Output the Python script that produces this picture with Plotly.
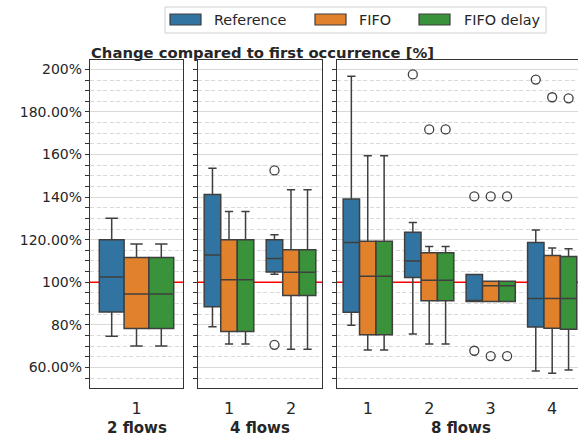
import plotly.graph_objects as go

# ---------------- data ----------------
panel_names = ["2 flows", "4 flows", "8 flows"]
panel_of_box = [0, 1, 1, 2, 2, 2, 2]
flow_labels = ["1", "1", "2", "1", "2", "3", "4"]
series_names = ["Reference", "FIFO", "FIFO delay"]

ref_low = [74.6, 79.1, 103.8, 79.8, 75.7, 90.9, 58.3]
ref_q1 = [86.0, 88.5, 104.8, 85.9, 102.2, 90.9, 79.0]
ref_med = [102.4, 112.8, 111.1, 118.6, 110.0, 90.9, 92.3]
ref_q3 = [119.9, 141.2, 120.0, 139.1, 123.5, 103.6, 118.6]
ref_high = [130.1, 153.6, 122.3, 196.8, 128.0, 103.6, 124.5]
ref_out_box = [2, 2, 4, 5, 5, 6]
ref_out_val = [152.5, 70.6, 197.6, 140.3, 67.8, 195.2]

fifo_low = [70.0, 71.0, 68.5, 68.1, 71.0, 90.9, 57.2]
fifo_q1 = [78.2, 76.8, 93.7, 75.3, 91.3, 90.9, 78.4]
fifo_med = [94.5, 101.1, 104.7, 102.8, 100.9, 98.3, 92.3]
fifo_q3 = [111.6, 120.0, 115.2, 119.3, 113.8, 100.5, 112.5]
fifo_high = [118.0, 133.2, 143.4, 159.4, 116.8, 100.5, 116.1]
fifo_out_box = [4, 5, 5, 6]
fifo_out_val = [171.8, 140.3, 65.3, 186.9]

delay_low = [70.0, 71.0, 68.5, 68.1, 71.0, 90.9, 58.7]
delay_q1 = [78.2, 76.8, 93.7, 75.3, 91.3, 90.9, 77.9]
delay_med = [94.5, 101.1, 104.7, 102.8, 100.9, 98.3, 92.3]
delay_q3 = [111.6, 120.0, 115.2, 119.3, 113.8, 100.5, 112.1]
delay_high = [118.0, 133.2, 143.4, 159.4, 116.8, 100.5, 115.7]
delay_out_box = [4, 5, 5, 6]
delay_out_val = [171.8, 140.3, 65.3, 186.4]

reference_level = 100

y_tick_vals = [60, 80, 100, 120, 140, 160, 180, 200]
y_tick_text = ["60.00%", "80%", "100%", "120.00%", "140%", "160%", "180.00%", "200%"]

# ---------------- style ----------------
colors = ["#3274a1", "#e1812c", "#3a923a"]
edge = "#3f3f3f"
text_col = "#262626"
font_family = "DejaVu Sans"
BOXGAP = 0.2
n_hue = 3
hue_w = (1 - BOXGAP) / n_hue

W, H = 578, 436
ML, MR, MT, MB = 90, 0, 60, 48
pw = W - ML - MR
ph = H - MT - MB


def px_x(x):
    return (x - ML) / pw


def px_y(y):
    return (H - MB - y) / ph


px_domains = [(90, 183), (198, 322), (337, 578)]
domains = [[px_x(a), px_x(b)] for a, b in px_domains]
x_ranges = [[-0.5, 0.5], [-0.5, 1.5], [-0.5, 3.42]]

series = [
    (ref_low, ref_q1, ref_med, ref_q3, ref_high, ref_out_box, ref_out_val),
    (fifo_low, fifo_q1, fifo_med, fifo_q3, fifo_high, fifo_out_box, fifo_out_val),
    (delay_low, delay_q1, delay_med, delay_q3, delay_high, delay_out_box, delay_out_val),
]

pos_in_panel = []
counter = {}
for p in panel_of_box:
    counter[p] = counter.get(p, -1) + 1
    pos_in_panel.append(counter[p])

fig = go.Figure()
for s_i, (lo, q1, med, q3, hi, ob, ov) in enumerate(series):
    for p in range(len(panel_names)):
        idx = [i for i, pp in enumerate(panel_of_box) if pp == p]
        ax = "" if p == 0 else str(p + 1)
        fig.add_trace(go.Box(
            x=[pos_in_panel[i] for i in idx],
            q1=[q1[i] for i in idx],
            median=[med[i] for i in idx],
            q3=[q3[i] for i in idx],
            lowerfence=[lo[i] for i in idx],
            upperfence=[hi[i] for i in idx],
            name=series_names[s_i],
            showlegend=False,
            fillcolor=colors[s_i],
            line=dict(color=edge, width=1.5),
            whiskerwidth=0.5,
            boxpoints=False,
            offsetgroup=str(s_i),
            xaxis="x" + ax, yaxis="y" + ax,
        ))
        ox, oy = [], []
        for b, v in zip(ob, ov):
            if panel_of_box[b] == p:
                ox.append(pos_in_panel[b] + (s_i - (n_hue - 1) / 2) * hue_w)
                oy.append(v)
        if ox:
            fig.add_trace(go.Scatter(
                x=ox, y=oy, mode="markers",
                marker=dict(symbol="circle-open", size=9, color=edge,
                            line=dict(width=1.3, color=edge)),
                showlegend=False,
                xaxis="x" + ax, yaxis="y" + ax, hoverinfo="skip",
            ))

layout = dict(
    width=W, height=H,
    margin=dict(l=ML, r=MR, t=MT, b=MB, pad=0),
    paper_bgcolor="white", plot_bgcolor="white",
    font=dict(family=font_family, color=text_col, size=14),
    boxmode="group", boxgap=BOXGAP, boxgroupgap=0,
    showlegend=False,
)

shapes = []
annotations = []
for p in range(len(panel_names)):
    ax = "" if p == 0 else str(p + 1)
    idx = [i for i, pp in enumerate(panel_of_box) if pp == p]
    layout["xaxis" + ax] = dict(
        domain=domains[p], range=x_ranges[p], anchor="y" + ax,
        tickmode="array", tickvals=[pos_in_panel[i] for i in idx],
        ticktext=[flow_labels[i] for i in idx],
        ticks="", showgrid=False, zeroline=False,
        showline=True, linecolor="#333333", linewidth=1.25, mirror=True,
        tickfont=dict(size=16, family=font_family, color=text_col),
        ticklabelstandoff=6,
    )
    layout["yaxis" + ax] = dict(
        domain=[0, 1], range=[50.3, 204.4], anchor="x" + ax,
        tickmode="array", tickvals=y_tick_vals, ticktext=y_tick_text,
        showticklabels=(p == 0), ticks="outside", ticklen=4, tickwidth=1,
        tickcolor="#333333",
        showgrid=True, gridcolor="#d9d9d9", gridwidth=1.3, zeroline=False,
        showline=True, linecolor="#333333", linewidth=1.25,
        mirror=(p != 2),
        tickfont=dict(size=14, family=font_family, color=text_col),
        minor=dict(tickmode="linear", tick0=0, dtick=5, ticks="outside",
                   ticklen=4, tickcolor="#333333", showgrid=True,
                   gridcolor="#d9d9d9", griddash="4px,2.5px", gridwidth=1),
    )
    if p > 0:
        layout["yaxis" + ax]["matches"] = "y"
    shapes.append(dict(type="line", xref="x" + ax, yref="y" + ax,
                       x0=x_ranges[p][0], x1=x_ranges[p][1],
                       y0=reference_level, y1=reference_level,
                       line=dict(color="red", width=1.5), layer="between"))
    label_center = (px_domains[p][0] + px_domains[p][1]) / 2 if p < 2 else (337 + 584) / 2
    annotations.append(dict(text="<b>" + panel_names[p] + "</b>", xref="paper", yref="paper",
                            x=px_x(label_center), y=0, yanchor="middle", xanchor="center",
                            yshift=-40, showarrow=False,
                            font=dict(size=15, family=font_family, color=text_col)))

annotations.append(dict(text="<b>Change compared to first occurrence [%]</b>",
                        xref="paper", yref="paper", x=px_x(89), y=1, xanchor="left",
                        yanchor="middle", yshift=8, showarrow=False,
                        font=dict(size=14.8, family=font_family, color=text_col)))

# ---- legend (drawn as patches + text, matplotlib style) ----
leg_box = (165, 7, 546, 33)
patch_x = [170, 315, 419]
text_x = [213, 358, 463]
shapes.append(dict(type="rect", xref="paper", yref="paper",
                   x0=px_x(leg_box[0]), x1=px_x(leg_box[2]),
                   y0=px_y(leg_box[3]), y1=px_y(leg_box[1]),
                   line=dict(color="#d0d0d0", width=1), fillcolor="white", layer="above"))
for s_i, name in enumerate(series_names):
    shapes.append(dict(type="rect", xref="paper", yref="paper",
                       x0=px_x(patch_x[s_i]), x1=px_x(patch_x[s_i] + 31),
                       y0=px_y(25), y1=px_y(14),
                       line=dict(color=edge, width=1.2), fillcolor=colors[s_i], layer="above"))
    annotations.append(dict(text=name, xref="paper", yref="paper",
                            x=px_x(text_x[s_i] - 1), y=px_y(20), xanchor="left", yanchor="middle",
                            showarrow=False,
                            font=dict(size=14.4, family=font_family, color=text_col)))

layout["shapes"] = shapes
layout["annotations"] = annotations
fig.update_layout(**layout)
fig.write_html("out.html")
